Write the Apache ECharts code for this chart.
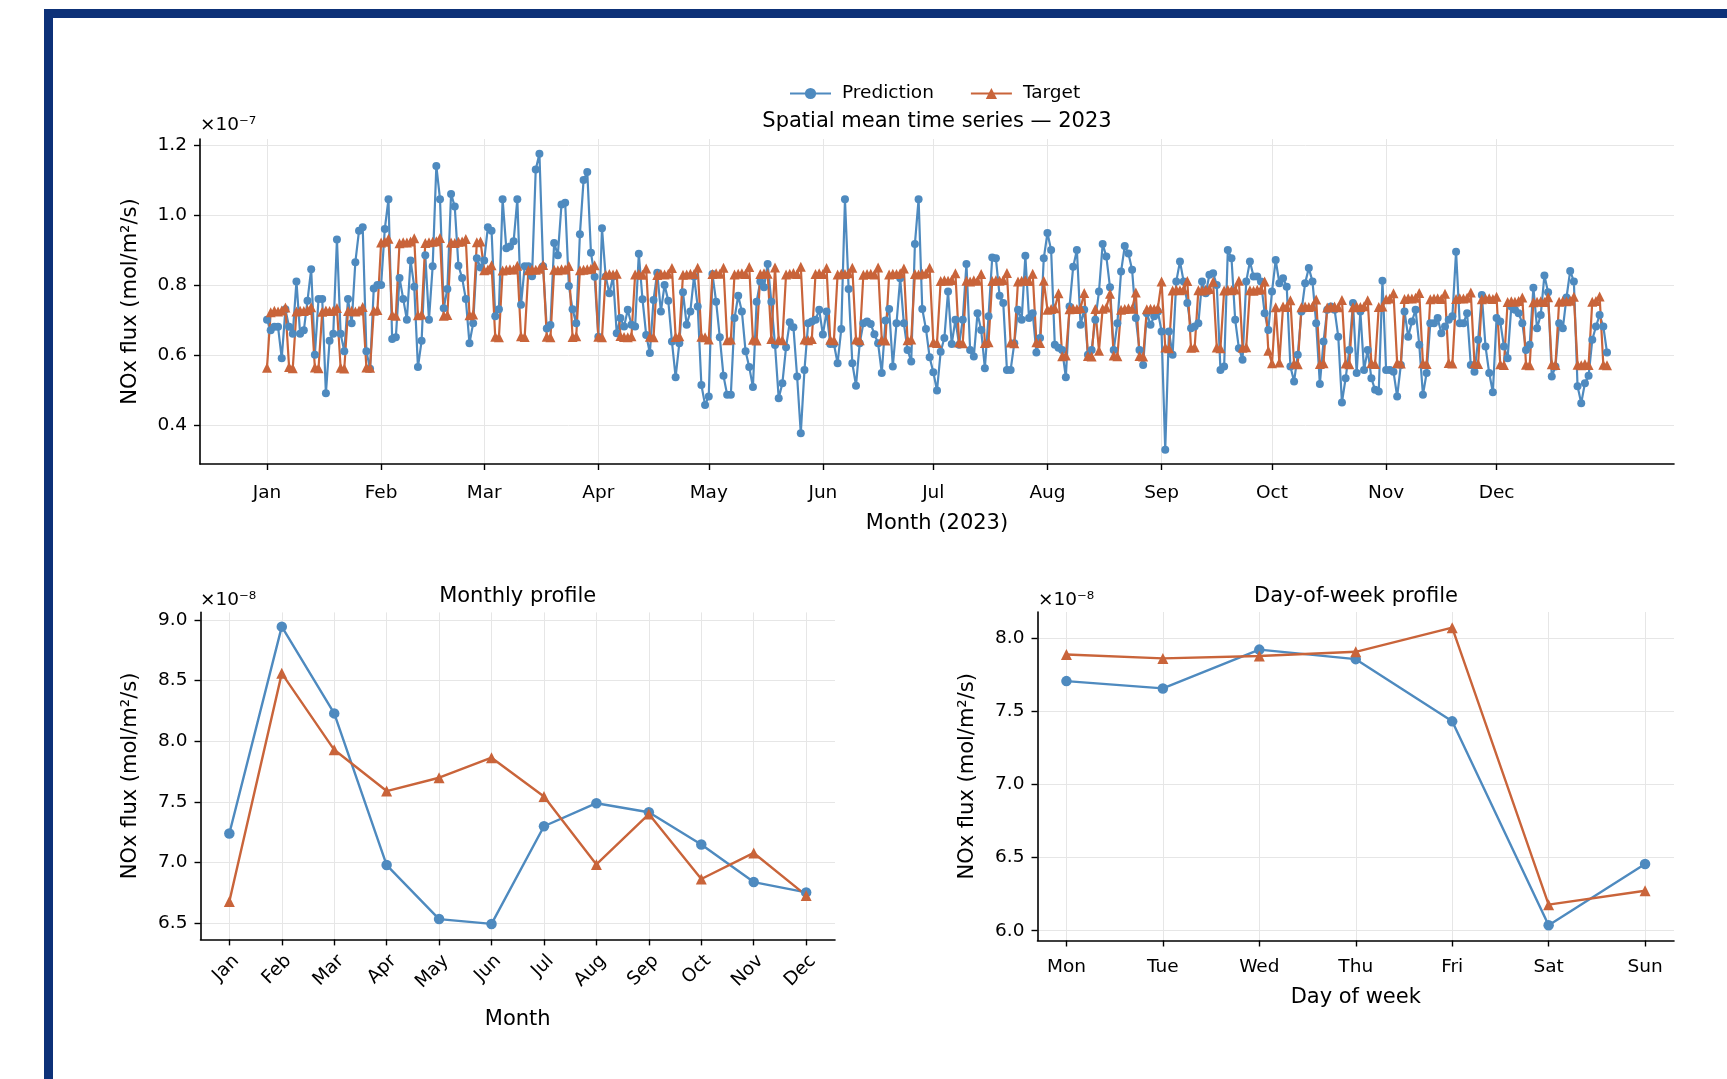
<!DOCTYPE html>
<html>
<head>
<meta charset="utf-8" />
<title>NOx flux – spatial mean 2023</title>
<script src="https://cdn.jsdelivr.net/npm/echarts@6/dist/echarts.min.js"></script>
<style>
    html, body { margin: 0; padding: 0; background: #fff; }
    #main { position: absolute; left: 0; top: 0; width: 1727px; height: 1079px; }
    .frame { position: absolute; background: #0d3178; }
</style>
</head>
<body>
<div id="main"></div>
<div class="frame" style="left:44px; top:9px; width:1683px; height:9px;"></div>
<div class="frame" style="left:44px; top:9px; width:9px; height:1070px;"></div>

<script>
// ---- data (daily values in 1e-7 mol/m2/s, profiles in 1e-8) ----
const monthNames = ['Jan', 'Feb', 'Mar', 'Apr', 'May', 'Jun', 'Jul', 'Aug', 'Sep', 'Oct', 'Nov', 'Dec'];
const monthStartDay = [0, 31, 59, 90, 120, 151, 181, 212, 243, 273, 304, 334];
const dailyTicks = [0.4, 0.6, 0.8, 1.0, 1.2];

// one row per month, day 0 = 2023-01-01
const dailyPrediction = [
    0.70, 0.67, 0.68, 0.68, 0.59, 0.73, 0.68, 0.66, 0.81, 0.66, 0.67, 0.755, 0.845, 0.60, 0.76, 0.76, 0.49, 0.64, 0.66, 0.93, 0.66, 0.61, 0.76, 0.69, 0.865, 0.955, 0.965, 0.61, 0.56, 0.79, 0.80,
    0.80, 0.96, 1.045, 0.645, 0.65, 0.82, 0.76, 0.70, 0.87, 0.795, 0.565, 0.64, 0.885, 0.70, 0.853, 1.14, 1.045, 0.733, 0.788, 1.06, 1.024, 0.855, 0.82, 0.76, 0.633, 0.69, 0.876, 0.85,
    0.87, 0.965, 0.955, 0.71, 0.73, 1.045, 0.905, 0.91, 0.925, 1.045, 0.743, 0.853, 0.853, 0.825, 1.13, 1.175, 0.853, 0.675, 0.685, 0.92, 0.885, 1.03, 1.035, 0.797, 0.73, 0.69, 0.945, 1.10, 1.123, 0.892, 0.823,
    0.652, 0.962, 0.824, 0.776, 0.824, 0.662, 0.705, 0.681, 0.729, 0.686, 0.681, 0.889, 0.759, 0.657, 0.605, 0.757, 0.835, 0.724, 0.80, 0.755, 0.638, 0.536, 0.633, 0.779, 0.686, 0.724, 0.824, 0.738, 0.514, 0.457,
    0.481, 0.831, 0.752, 0.65, 0.54, 0.486, 0.486, 0.705, 0.769, 0.724, 0.61, 0.565, 0.508, 0.752, 0.81, 0.793, 0.86, 0.752, 0.628, 0.476, 0.519, 0.622, 0.693, 0.679, 0.538, 0.376, 0.557, 0.69, 0.695, 0.70, 0.729,
    0.658, 0.724, 0.631, 0.631, 0.576, 0.674, 1.045, 0.788, 0.576, 0.512, 0.633, 0.69, 0.695, 0.688, 0.659, 0.633, 0.548, 0.698, 0.731, 0.567, 0.69, 0.819, 0.69, 0.614, 0.581, 0.917, 1.045, 0.731, 0.674, 0.593,
    0.55, 0.498, 0.609, 0.648, 0.781, 0.631, 0.70, 0.629, 0.70, 0.86, 0.614, 0.595, 0.719, 0.671, 0.562, 0.71, 0.878, 0.876, 0.769, 0.748, 0.557, 0.557, 0.633, 0.729, 0.70, 0.883, 0.705, 0.719, 0.607, 0.648, 0.876,
    0.948, 0.90, 0.629, 0.62, 0.614, 0.536, 0.738, 0.852, 0.90, 0.686, 0.729, 0.60, 0.614, 0.70, 0.781, 0.917, 0.881, 0.793, 0.614, 0.69, 0.838, 0.911, 0.89, 0.843, 0.705, 0.614, 0.571, 0.719, 0.686, 0.71, 0.724,
    0.667, 0.329, 0.667, 0.60, 0.81, 0.867, 0.81, 0.748, 0.676, 0.681, 0.69, 0.81, 0.776, 0.829, 0.833, 0.80, 0.557, 0.567, 0.90, 0.876, 0.70, 0.619, 0.586, 0.81, 0.867, 0.824, 0.824, 0.81, 0.719, 0.671,
    0.781, 0.871, 0.805, 0.819, 0.795, 0.567, 0.524, 0.60, 0.724, 0.805, 0.848, 0.81, 0.69, 0.517, 0.638, 0.729, 0.738, 0.729, 0.652, 0.464, 0.533, 0.614, 0.748, 0.548, 0.724, 0.557, 0.614, 0.533, 0.50, 0.495, 0.812,
    0.557, 0.557, 0.552, 0.481, 0.571, 0.724, 0.652, 0.695, 0.729, 0.629, 0.486, 0.548, 0.69, 0.69, 0.705, 0.662, 0.681, 0.70, 0.71, 0.895, 0.69, 0.69, 0.719, 0.571, 0.552, 0.643, 0.771, 0.624, 0.548, 0.493,
    0.705, 0.695, 0.624, 0.59, 0.738, 0.729, 0.719, 0.69, 0.614, 0.629, 0.792, 0.676, 0.714, 0.827, 0.779, 0.538, 0.567, 0.69, 0.676, 0.764, 0.84, 0.81, 0.51, 0.462, 0.519, 0.54, 0.643, 0.681, 0.714, 0.681, 0.607
];

const dailyTarget = [
    0.563, 0.722, 0.726, 0.724, 0.727, 0.735, 0.565, 0.562, 0.724, 0.726, 0.725, 0.728, 0.736, 0.564, 0.562, 0.723, 0.727, 0.725, 0.726, 0.734, 0.563, 0.561, 0.725, 0.726, 0.724, 0.727, 0.737, 0.564, 0.563, 0.726, 0.728,
    0.921, 0.923, 0.932, 0.714, 0.712, 0.919, 0.922, 0.921, 0.924, 0.933, 0.713, 0.715, 0.920, 0.922, 0.923, 0.925, 0.934, 0.712, 0.714, 0.921, 0.920, 0.923, 0.924, 0.931, 0.713, 0.715, 0.922, 0.924,
    0.842, 0.844, 0.856, 0.652, 0.650, 0.841, 0.843, 0.845, 0.844, 0.855, 0.653, 0.651, 0.842, 0.844, 0.843, 0.846, 0.857, 0.652, 0.650, 0.843, 0.842, 0.845, 0.844, 0.854, 0.651, 0.653, 0.842, 0.843, 0.845, 0.846, 0.856,
    0.652, 0.650, 0.829, 0.831, 0.830, 0.832, 0.654, 0.651, 0.650, 0.653, 0.830, 0.831, 0.829, 0.847, 0.652, 0.650, 0.828, 0.831, 0.830, 0.832, 0.848, 0.651, 0.653, 0.829, 0.830, 0.832, 0.831, 0.849, 0.652, 0.650,
    0.644, 0.831, 0.833, 0.832, 0.849, 0.642, 0.644, 0.830, 0.832, 0.833, 0.831, 0.851, 0.643, 0.641, 0.831, 0.833, 0.832, 0.645, 0.850, 0.643, 0.642, 0.830, 0.832, 0.834, 0.831, 0.852, 0.644, 0.642, 0.645, 0.831, 0.833,
    0.831, 0.848, 0.643, 0.642, 0.830, 0.832, 0.831, 0.833, 0.849, 0.644, 0.642, 0.829, 0.831, 0.832, 0.830, 0.850, 0.643, 0.641, 0.830, 0.832, 0.831, 0.833, 0.847, 0.642, 0.644, 0.831, 0.830, 0.832, 0.833, 0.849,
    0.636, 0.634, 0.811, 0.813, 0.812, 0.814, 0.833, 0.635, 0.633, 0.812, 0.810, 0.813, 0.812, 0.831, 0.634, 0.636, 0.811, 0.813, 0.812, 0.814, 0.834, 0.635, 0.633, 0.810, 0.812, 0.813, 0.811, 0.832, 0.636, 0.634, 0.812,
    0.729, 0.731, 0.733, 0.776, 0.596, 0.598, 0.730, 0.732, 0.731, 0.734, 0.777, 0.597, 0.595, 0.731, 0.612, 0.732, 0.735, 0.775, 0.598, 0.596, 0.729, 0.731, 0.733, 0.732, 0.778, 0.597, 0.595, 0.730, 0.732, 0.731, 0.734,
    0.810, 0.621, 0.619, 0.784, 0.786, 0.785, 0.787, 0.811, 0.620, 0.622, 0.785, 0.784, 0.786, 0.788, 0.809, 0.621, 0.619, 0.784, 0.786, 0.785, 0.787, 0.812, 0.620, 0.622, 0.785, 0.783, 0.786, 0.787, 0.810, 0.612,
    0.576, 0.736, 0.578, 0.738, 0.737, 0.756, 0.575, 0.573, 0.736, 0.738, 0.737, 0.739, 0.758, 0.574, 0.576, 0.735, 0.737, 0.738, 0.736, 0.757, 0.575, 0.573, 0.736, 0.738, 0.737, 0.739, 0.756, 0.576, 0.574, 0.737, 0.738,
    0.759, 0.761, 0.776, 0.577, 0.575, 0.760, 0.762, 0.761, 0.763, 0.777, 0.576, 0.574, 0.759, 0.761, 0.762, 0.760, 0.775, 0.577, 0.575, 0.760, 0.762, 0.761, 0.763, 0.778, 0.576, 0.574, 0.759, 0.761, 0.762, 0.760,
    0.766, 0.573, 0.571, 0.751, 0.753, 0.752, 0.754, 0.764, 0.572, 0.570, 0.750, 0.752, 0.753, 0.751, 0.765, 0.573, 0.571, 0.752, 0.754, 0.753, 0.755, 0.766, 0.572, 0.570, 0.574, 0.571, 0.752, 0.754, 0.767, 0.572, 0.570
];

const monthlyTicks = [6.5, 7.0, 7.5, 8.0, 8.5, 9.0];
const monthlyPrediction = [7.24, 8.945, 8.23, 6.98, 6.535, 6.495, 7.30, 7.49, 7.415, 7.15, 6.84, 6.755];
const monthlyTarget = [6.68, 8.56, 7.93, 7.59, 7.70, 7.865, 7.545, 6.985, 7.40, 6.865, 7.08, 6.73];

const weekdays = ['Mon', 'Tue', 'Wed', 'Thu', 'Fri', 'Sat', 'Sun'];
const weekdayTicks = [6.0, 6.5, 7.0, 7.5, 8.0];
const weekdayPrediction = [7.705, 7.655, 7.92, 7.855, 7.43, 6.037, 6.455];
const weekdayTarget = [7.887, 7.86, 7.876, 7.905, 8.07, 6.178, 6.273];

// ---- styling ----
const PRED = '#4e8abf';
const TGT = '#c9643a';
const FONT = 'DejaVu Sans';

const spine = { show: true, onZero: false, lineStyle: { color: '#000', width: 1.6 } };
const gridLine = { show: true, lineStyle: { color: '#e6e6e6', width: 1 } };
const tickText = { color: '#000', fontFamily: FONT, fontSize: 18.5 };
const nameText = { color: '#000', fontFamily: FONT, fontSize: 21 };

function tickMarks(values) {
    return { show: true, length: 6, customValues: values, lineStyle: { color: '#000', width: 1.4 } };
}

function pairs(values) {
    return values.map((v, i) => [i, v]);
}

function plainText(x, y, text, size, align) {
    return {
        type: 'text', x: x, y: y, silent: true,
        style: { text: text, fill: '#000', font: size + 'px "' + FONT + '"', align: align, verticalAlign: 'middle' }
    };
}

const chart = echarts.init(document.getElementById('main'));

chart.setOption({
    animation: false,
    legend: {
        data: ['Prediction', 'Target'],
        left: 784, top: 79,
        itemWidth: 41, itemHeight: 14, itemGap: 36,
        textStyle: { color: '#000', fontFamily: FONT, fontSize: 18.5, padding: [0, 0, 0, 6] }
    },
    graphic: [
        plainText(937, 122, 'Spatial mean time series — 2023', 21, 'center'),
        plainText(517.7, 597, 'Monthly profile', 21, 'center'),
        plainText(1356, 597, 'Day-of-week profile', 21, 'center'),
        plainText(200, 125.5, '×10⁻⁷', 18.5, 'left'),
        plainText(200, 600.5, '×10⁻⁸', 18.5, 'left'),
        plainText(1038, 600.5, '×10⁻⁸', 18.5, 'left')
    ],
    grid: [
        { left: 200, top: 139, width: 1474, height: 325 },
        { left: 200.5, top: 612.4, width: 634.5, height: 327 },
        { left: 1037.5, top: 612, width: 636.5, height: 328.5 }
    ],
    xAxis: [
        {
            gridIndex: 0, type: 'value', min: -18.2, max: 382.2,
            axisLine: spine, axisTick: tickMarks(monthStartDay), splitLine: gridLine,
            axisLabel: Object.assign({}, tickText, {
                margin: 20, customValues: monthStartDay,
                formatter: v => monthNames[monthStartDay.indexOf(v)]
            }),
            name: 'Month (2023)', nameLocation: 'middle', nameGap: 49, nameTextStyle: nameText
        },
        {
            gridIndex: 1, type: 'value', min: -0.55, max: 11.55,
            axisLine: spine, axisTick: tickMarks(monthNames.map((m, i) => i)), splitLine: gridLine,
            axisLabel: Object.assign({}, tickText, {
                margin: 12, rotate: 45, verticalAlign: 'top', customValues: monthNames.map((m, i) => i),
                formatter: v => monthNames[v]
            }),
            name: 'Month', nameLocation: 'middle', nameGap: 70, nameTextStyle: nameText
        },
        {
            gridIndex: 2, type: 'value', min: -0.3, max: 6.3,
            axisLine: spine, axisTick: tickMarks(weekdays.map((d, i) => i)), splitLine: gridLine,
            axisLabel: Object.assign({}, tickText, {
                margin: 17, customValues: weekdays.map((d, i) => i),
                formatter: v => weekdays[v]
            }),
            name: 'Day of week', nameLocation: 'middle', nameGap: 47, nameTextStyle: nameText
        }
    ],
    yAxis: [
        {
            gridIndex: 0, type: 'value', min: 0.288, max: 1.217,
            axisLine: spine, axisTick: tickMarks(dailyTicks), splitLine: gridLine,
            axisLabel: Object.assign({}, tickText, { margin: 13, customValues: dailyTicks, formatter: v => v.toFixed(1) }),
            name: 'NOx flux (mol/m²/s)', nameLocation: 'middle', nameGap: 59, nameTextStyle: nameText
        },
        {
            gridIndex: 1, type: 'value', min: 6.3675, max: 9.0625,
            axisLine: spine, axisTick: tickMarks(monthlyTicks), splitLine: gridLine,
            axisLabel: Object.assign({}, tickText, { margin: 13, customValues: monthlyTicks, formatter: v => v.toFixed(1) }),
            name: 'NOx flux (mol/m²/s)', nameLocation: 'middle', nameGap: 59, nameTextStyle: nameText
        },
        {
            gridIndex: 2, type: 'value', min: 5.933, max: 8.177,
            axisLine: spine, axisTick: tickMarks(weekdayTicks), splitLine: gridLine,
            axisLabel: Object.assign({}, tickText, { margin: 13, customValues: weekdayTicks, formatter: v => v.toFixed(1) }),
            name: 'NOx flux (mol/m²/s)', nameLocation: 'middle', nameGap: 59, nameTextStyle: nameText
        }
    ],
    series: [
        {
            name: 'Prediction', type: 'line', xAxisIndex: 0, yAxisIndex: 0,
            data: pairs(dailyPrediction), symbol: 'circle', symbolSize: 8,
            lineStyle: { color: PRED, width: 2.2 }, itemStyle: { color: PRED }
        },
        {
            name: 'Target', type: 'line', xAxisIndex: 0, yAxisIndex: 0,
            data: pairs(dailyTarget), symbol: 'triangle', symbolSize: 10,
            lineStyle: { color: TGT, width: 2.2 }, itemStyle: { color: TGT }
        },
        {
            name: 'Prediction', type: 'line', xAxisIndex: 1, yAxisIndex: 1,
            data: pairs(monthlyPrediction), symbol: 'circle', symbolSize: 10.5,
            lineStyle: { color: PRED, width: 2.4 }, itemStyle: { color: PRED }
        },
        {
            name: 'Target', type: 'line', xAxisIndex: 1, yAxisIndex: 1,
            data: pairs(monthlyTarget), symbol: 'triangle', symbolSize: 11,
            lineStyle: { color: TGT, width: 2.4 }, itemStyle: { color: TGT }
        },
        {
            name: 'Prediction', type: 'line', xAxisIndex: 2, yAxisIndex: 2,
            data: pairs(weekdayPrediction), symbol: 'circle', symbolSize: 10.5,
            lineStyle: { color: PRED, width: 2.4 }, itemStyle: { color: PRED }
        },
        {
            name: 'Target', type: 'line', xAxisIndex: 2, yAxisIndex: 2,
            data: pairs(weekdayTarget), symbol: 'triangle', symbolSize: 11,
            lineStyle: { color: TGT, width: 2.4 }, itemStyle: { color: TGT }
        }
    ]
});
</script>
</body>
</html>
